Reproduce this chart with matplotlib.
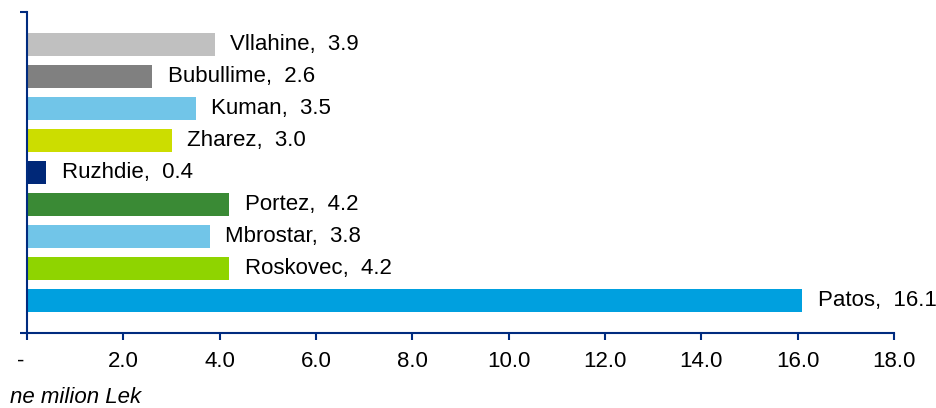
import matplotlib
matplotlib.use('Agg')
import matplotlib.pyplot as plt
from matplotlib.ticker import FixedLocator

plt.rcParams['font.family'] = ['Liberation Sans', 'DejaVu Sans']

# data, top to bottom as drawn
names = ['Vllahine', 'Bubullime', 'Kuman', 'Zharez', 'Ruzhdie',
         'Portez', 'Mbrostar', 'Roskovec', 'Patos']
values = [3.9, 2.6, 3.5, 3.0, 0.4, 4.2, 3.8, 4.2, 16.1]
colors = ['#C0C0C0', '#808080', '#71C5E8', '#CCDD00', '#002878',
          '#3A8A35', '#71C5E8', '#8FD400', '#00A0DF']
xticks = [0, 2, 4, 6, 8, 10, 12, 14, 16, 18]
xticklabels = ['-  ', '2.0', '4.0', '6.0', '8.0', '10.0', '12.0', '14.0', '16.0', '18.0']

axis_col = '#002B7F'

fig = plt.figure(figsize=(9.37, 4.08), dpi=100)
ax = fig.add_axes([27/937, 75/408, 867/937, 321/408])

ypos = list(range(1, len(names) + 1))
ax.barh(ypos, values, height=0.72, color=colors, edgecolor='none')
ax.set_ylim(len(names) + 1, 0)
ax.set_xlim(0, 18)

for y, n, v in zip(ypos, names, values):
    ax.annotate(f'{n},  {v:.1f}', xy=(v, y), xytext=(11, 0),
                textcoords='offset points', ha='left', va='center',
                fontsize=16, color='#000000')

ax.set_xticks(xticks)
ax.set_xticklabels(xticklabels, fontsize=16)
ax.tick_params(axis='x', direction='out', length=5, width=1.5, color=axis_col, pad=8)
ax.set_yticks([])
ax.yaxis.set_minor_locator(FixedLocator([0, len(names) + 1]))
ax.tick_params(axis='y', which='minor', direction='out', length=5, width=1.5, color=axis_col)

for s in ['top', 'right']:
    ax.spines[s].set_visible(False)
for s in ['left', 'bottom']:
    ax.spines[s].set_color(axis_col)
    ax.spines[s].set_linewidth(1.5)

fig.text(10/937, 1 - 403/408, 'ne milion Lek', fontsize=16, style='italic',
         ha='left', va='baseline')

fig.savefig('out.png', dpi=100)
plt.close(fig)
